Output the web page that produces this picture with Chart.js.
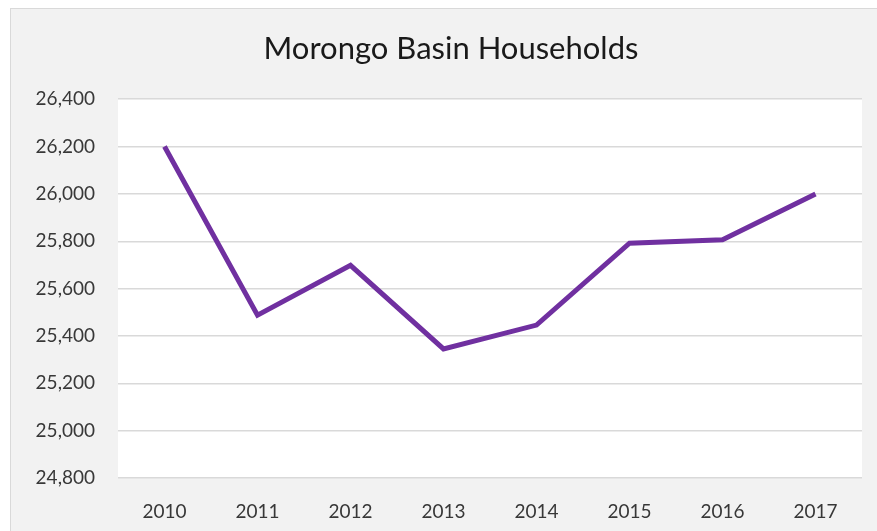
<!DOCTYPE html>
<html>
<head>
<meta charset="utf-8">
<script src="https://cdn.jsdelivr.net/npm/chart.js@4"></script>
<style>
    html, body {
        margin: 0;
        padding: 0;
        background: #ffffff;
    }

    #frame {
        position: absolute;
        left: 10px;
        top: 8px;
        width: 866px;
        height: 522px;
        background: #f2f2f2;
        border: 1px solid #d9d9d9;
        border-right: none;
        border-bottom: none;
    }

    #householdsChart {
        display: block;
    }
</style>
</head>
<body>

<div id="frame">
    <canvas id="householdsChart" width="866" height="522"></canvas>
</div>

<script>

// سال‌ها و تعداد خانوارها
const years = ["2010", "2011", "2012", "2013", "2014", "2015", "2016", "2017"];

const households = [26200, 25488, 25698, 25345, 25446, 25792, 25806, 26000];

const yTicks = [24800, 25000, 25200, 25400, 25600, 25800, 26000, 26200, 26400];

const chartTitle = "Morongo Basin Households";

const plotBackground = {

    id: "plotBackground",

    // عنوان کمی به راست، مثل نمودار اصلی
    afterLayout(chart) {

        if (chart.titleBlock) {
            chart.titleBlock.left += 29;
        }

    },

    beforeDraw(chart) {

        const { ctx, chartArea } = chart;

        ctx.save();

        ctx.fillStyle = "#ffffff";

        ctx.fillRect(
            chartArea.left,
            chartArea.top,
            chartArea.right - chartArea.left,
            chartArea.bottom - chartArea.top
        );

        ctx.restore();

    }

};

function renderChart() {

    const ctx = document
        .getElementById("householdsChart")
        .getContext("2d");

    new Chart(ctx, {

        type: "line",

        data: {

            labels: years,

            datasets: [{

                label: chartTitle,

                data: households,

                borderColor: "#7030a0",

                borderWidth: 5,

                pointRadius: 0,

                tension: 0,

                fill: false

            }]

        },

        options: {

            responsive: false,

            animation: false,

            layout: {
                padding: { top: 0, right: 15, bottom: 0, left: 0 }
            },

            plugins: {

                legend: {
                    display: false
                },

                tooltip: {
                    enabled: false
                },

                title: {
                    display: true,
                    text: chartTitle,
                    color: "#1a1a1a",
                    font: { family: "Lato", size: 31, weight: "normal" },
                    padding: { top: 21, bottom: 32 }
                }

            },

            scales: {

                x: {
                    offset: true,
                    grid: { display: false },
                    border: { display: false },
                    ticks: {
                        color: "#383838",
                        font: { family: "Lato", size: 19 },
                        padding: 14
                    },
                    afterFit(axis) {
                        axis.height = 53;
                    }
                },

                y: {
                    min: yTicks[0],
                    max: yTicks[yTicks.length - 1],
                    afterBuildTicks(axis) {
                        axis.ticks = yTicks.map(v => ({ value: v }));
                    },
                    grid: {
                        color: "#d9d9d9",
                        lineWidth: 1.5,
                        drawTicks: false
                    },
                    border: { display: false },
                    ticks: {
                        color: "#383838",
                        font: { family: "Lato", size: 19 },
                        padding: 23,
                        callback: v => v.toLocaleString("en-US")
                    },
                    afterFit(axis) {
                        axis.width = 107;
                    }
                }

            }

        },

        plugins: [plotBackground]

    });

}

renderChart();

</script>
</body>
</html>
